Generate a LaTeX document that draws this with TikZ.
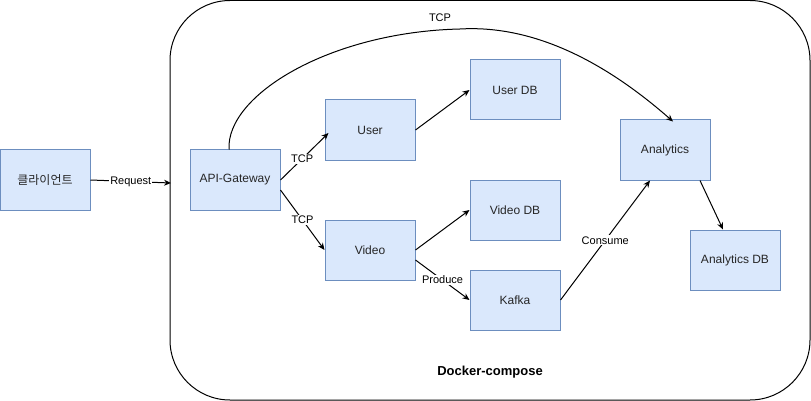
\documentclass[tikz,border=0pt]{standalone}
\usepackage{fontspec}
\setmainfont{Liberation Sans}
\newfontfamily\kofont{Noto Sans CJK KR}
\usetikzlibrary{arrows.meta}
\definecolor{boxfill}{HTML}{DAE8FC}
\definecolor{boxdraw}{HTML}{6C8EBF}
\begin{document}
\begin{tikzpicture}[x=1pt,y=-1pt,
  svc/.style={draw=boxdraw,fill=boxfill,line width=1pt,minimum width=90pt,minimum height=60pt,inner sep=0pt,font=\fontsize{12}{14}\selectfont,text=black!85},
  conn/.style={draw=black,line width=1pt,-{Stealth[length=7pt,width=6pt]}},
  lbl/.style={fill=white,inner sep=1pt,font=\fontsize{11}{13}\selectfont}]
\useasboundingbox (0,0) rectangle (811,401);
\draw[line width=1pt,rounded corners=60pt] (170,0.5) rectangle (810,400);
\node[svc] (client) at (45,180) {\kofont 클라이언트};
\node[svc] (gw) at (235,180) {API-Gateway};
\node[svc] (user) at (370,130) {User};
\node[svc] (video) at (370,250) {Video};
\node[svc] (userdb) at (515,90) {User DB};
\node[svc] (videodb) at (515,210) {Video DB};
\node[svc] (kafka) at (515,300) {Kafka};
\node[svc] (ana) at (665,150) {Analytics};
\node[svc] (anadb) at (735,260) {Analytics DB};
\coordinate (cin) at (171,183);
\draw[conn] (client.east) -- node[lbl] {Request} (cin);
\draw[conn] (gw.east) -- node[lbl,pos=0.45] {TCP} ([xshift=4pt,yshift=-3pt]user.west);
\draw[conn] ([yshift=-10pt]gw.east) -- node[lbl,pos=0.5] {TCP} (video.west);
\draw[conn] (user.east) -- (userdb.west);
\draw[conn] (video.east) -- (videodb.west);
\draw[conn] ([yshift=-10pt]video.east) -- node[lbl,pos=0.5] {Produce} (kafka.west);
\draw[conn] (kafka.east) -- node[lbl,pos=0.5] {Consume} ([xshift=-15pt]ana.south);
\draw[conn] ([xshift=35pt]ana.south) -- ([xshift=-12pt]anadb.north);
\coordinate (peak) at (460,29);
\draw[conn] ([xshift=-6pt]gw.north) .. controls (226,95) and (330,32) .. (peak) .. controls (545,24) and (620,75) .. ([xshift=8pt,yshift=-2pt]ana.north);
\node[font=\fontsize{11}{13}\selectfont] (tcp) at (440,18) {TCP};
\node[font=\bfseries\fontsize{13}{15}\selectfont] (dc) at (490,372) {Docker-compose};
\end{tikzpicture}
\end{document}
